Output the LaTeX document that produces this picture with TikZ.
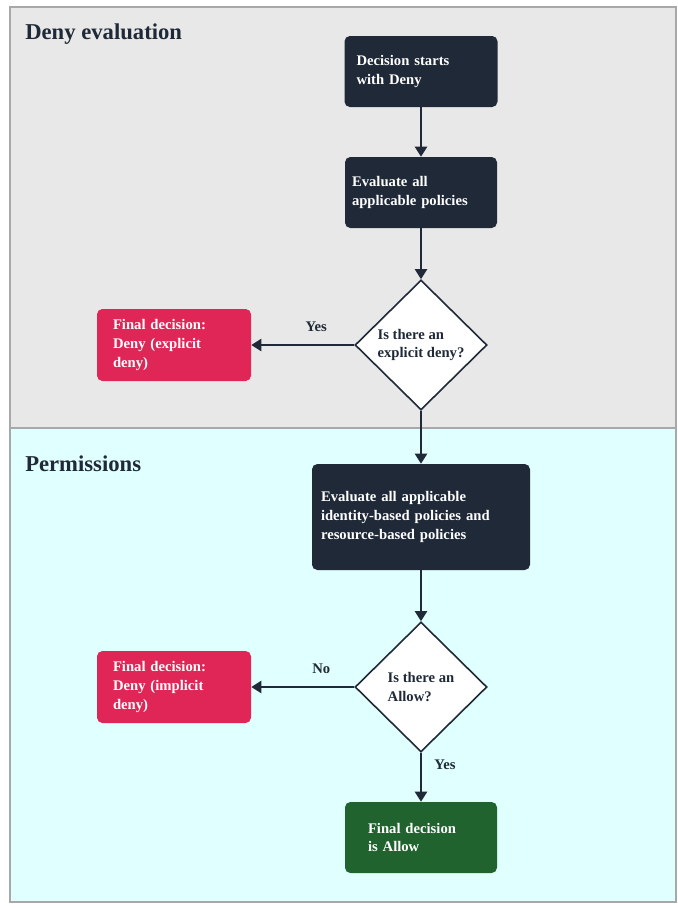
\documentclass[tikz,border=0pt]{standalone}
\usepackage{fontspec}
\setmainfont{Liberation Serif}
\newfontfamily\flowfont{Liberation Serif}
\usetikzlibrary{shapes.geometric, arrows.meta}
\definecolor{FlowInk}{RGB}{31,41,55}
\definecolor{FlowRed}{RGB}{224,38,86}
\definecolor{FlowGreen}{RGB}{33,99,47}
\definecolor{PanelGray}{RGB}{232,232,232}
\definecolor{PanelCyan}{RGB}{224,255,255}
\definecolor{PanelEdge}{RGB}{168,168,168}

\begin{document}
\begin{tikzpicture}[x=0.75pt, y=-0.75pt,
    every node/.style={font=\flowfont\fontsize{11}{14}\selectfont\bfseries},
    stepbox/.style={rectangle, rounded corners=4pt, draw=none, text=white,
                    align=left, minimum height=53.25pt},
    darkbox/.style={stepbox, fill=FlowInk},
    denybox/.style={stepbox, fill=FlowRed, inner xsep=12pt,
                    text width=91.5pt, minimum height=54pt},
    allowbox/.style={stepbox, fill=FlowGreen},
    question/.style={diamond, draw=FlowInk, line width=1.2pt, fill=white,
                     text=FlowInk, align=left, inner sep=0pt,
                     minimum width=99pt, minimum height=97.5pt},
    flow/.style={draw=FlowInk, line width=1.6pt,
                 -{Triangle[width=9pt,length=7.5pt]}},
    panel/.style={draw=PanelEdge, line width=0.8pt},
    paneltitle/.style={anchor=west, inner sep=0pt, text=FlowInk,
                       font=\flowfont\fontsize{17}{20}\selectfont\bfseries},
    edgelabel/.style={text=FlowInk}]
  \useasboundingbox (0,0) rectangle (678,908);

  % panels
  \fill[PanelGray] (10,7) rectangle (676,428);
  \fill[PanelCyan] (10,428) rectangle (676,902);
  \draw[panel] (10,7) rectangle (676,902);
  \draw[panel] (10,428) -- (676,428);
  \node[paneltitle] (denytitle) at (25,34) {Deny evaluation};
  \node[paneltitle] (permtitle) at (25,464) {Permissions};

  % deny evaluation
  \node[darkbox, inner xsep=9pt, text width=96.75pt] (start) at (421,71.5)
        {Decision starts\\with Deny};
  \node[darkbox, inner xsep=5.25pt, text width=103.5pt] (evalall) at (421,192.5)
        {Evaluate all\\applicable policies};
  \node[question] (explicit) at (421,345) {Is there an\\explicit deny?};
  \node[denybox] (explicitdeny) at (174,345)
        {Final decision:\\Deny (explicit\\deny)};

  % permissions
  \node[darkbox, inner xsep=6.75pt, text width=150pt, minimum height=79.5pt]
        (evalid) at (421,517)
        {Evaluate all applicable\\identity-based policies and\\resource-based policies};
  \node[question] (allow) at (421,687) {Is there an\\Allow?};
  \node[denybox] (implicitdeny) at (174,687)
        {Final decision:\\Deny (implicit\\deny)};
  \node[allowbox, inner xsep=17.25pt, text width=79.5pt] (final) at (421,837.5)
        {Final decision\\is Allow};

  \draw[flow] (start) -- (evalall);
  \draw[flow] (evalall) -- (explicit);
  \draw[flow] (explicit) -- node[edgelabel, pos=.37, yshift=14pt] {Yes} (explicitdeny);
  \draw[flow] (explicit) -- (evalid);
  \draw[flow] (evalid) -- (allow);
  \draw[flow] (allow) -- node[edgelabel, pos=.32, yshift=13.5pt] {No} (implicitdeny);
  \draw[flow] (allow) -- node[edgelabel, pos=.24, xshift=18pt] {Yes} (final);
\end{tikzpicture}
\end{document}
